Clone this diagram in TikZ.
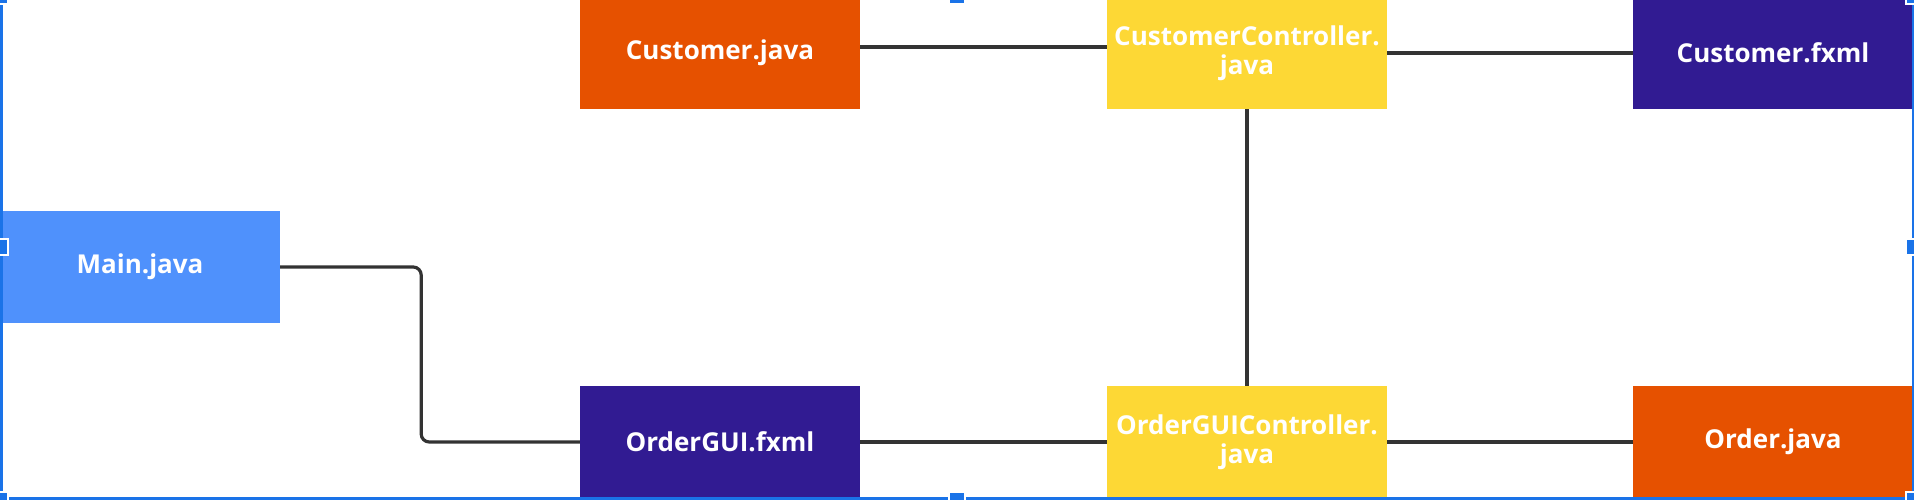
\documentclass[tikz,border=0pt]{standalone}
\usepackage{fontspec}
\setmainfont{Open Sans}
\usetikzlibrary{calc}
\definecolor{mainblue}{HTML}{4F91FC}
\definecolor{javaorange}{HTML}{E65100}
\definecolor{fxmlpurple}{HTML}{311B92}
\definecolor{ctlyellow}{HTML}{FDD835}
\definecolor{linegray}{HTML}{333333}
\definecolor{selblue}{HTML}{1A73E8}
\tikzstyle{every node}=[font=\bfseries\fontsize{26}{29}\selectfont]
\tikzstyle{box}=[rectangle,minimum width=280pt,minimum height=112pt,inner sep=0pt,text=white,align=center]
\tikzstyle{link}=[draw=linegray,line width=3.2pt]
\tikzstyle{handle}=[rectangle,fill=selblue,draw=white,line width=1.5pt,minimum size=16pt,inner sep=0pt]

\begin{document}
\begin{tikzpicture}[x=1pt,y=-1pt]
    \useasboundingbox (0,0) rectangle (1914,500);

    % entry point
    \node[box,fill=mainblue] (main) at (140,267) {Main.java};

    % customer row
    \node[box,fill=javaorange] (customer) at (720,53) {Customer.java};
    \node[box,fill=ctlyellow] (customerctl) at (1247,53) {CustomerController.\\java};
    \node[box,fill=fxmlpurple] (customerfxml) at (1773,53) {Customer.fxml};

    % order row
    \node[box,fill=fxmlpurple] (ordergui) at (720,442) {OrderGUI.fxml};
    \node[box,fill=ctlyellow] (orderctl) at (1247,442) {OrderGUIController.\\java};
    \node[box,fill=javaorange] (order) at (1773,442) {Order.java};

    % connections
    \draw[link,rounded corners=8pt] (main.east) -- ++(141,0) |- (ordergui.west);
    \draw[link] ([yshift=6pt]customer.east) -- ([yshift=6pt]customerctl.west);
    \draw[link] (customerctl.east) -- (customerfxml.west);
    \draw[link] (customerctl.south) -- (orderctl.north);
    \draw[link] (ordergui.east) -- (orderctl.west);
    \draw[link] (orderctl.east) -- (order.west);

    % selection frame
    \draw[selblue,line width=3pt] (1,-4) |- (1913,498.5) -- (1913,-4);
    \foreach \hx/\hy [count=\i] in {0/-4,957/-4,1914/-4,0/247,1914/247,0/500,957/500,1914/500}
        \node[handle] (h\i) at (\hx,\hy) {};
\end{tikzpicture}
\end{document}
